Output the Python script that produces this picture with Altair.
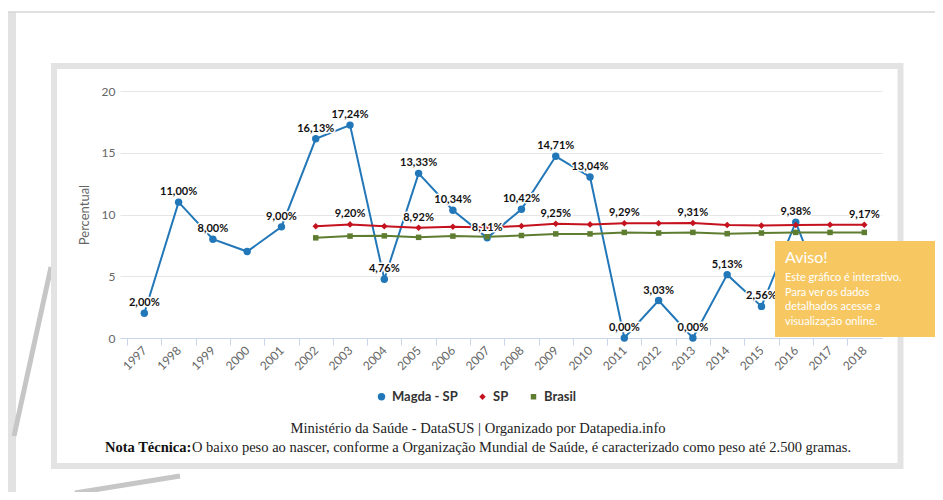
import altair as alt
import pandas as pd

# ---------------- data ----------------
years = [str(y) for y in range(1997, 2019)]
series_names = ["Magda - SP", "SP", "Brasil"]
series_colors = ["#2277b8", "#c4121e", "#5e7d30"]

magda = [2.00, 11.00, 8.00, 7.00, 9.00, 16.13, 17.24, 4.76, 13.33, 10.34, 8.11,
         10.42, 14.71, 13.04, 0.00, 3.03, 0.00, 5.13, 2.56, 9.38, 2.20, 4.50]
magda_unlabeled = ["2000", "2017", "2018"]

sp_years = years[5:]  # 2002-2018
sp = [9.05, 9.20, 9.05, 8.92, 9.00, 8.95, 9.07, 9.25, 9.20, 9.29, 9.30, 9.31,
      9.15, 9.10, 9.15, 9.17, 9.17]
sp_labeled = ["2003", "2005", "2009", "2011", "2013", "2018"]

brasil_years = years[5:]
brasil = [8.11, 8.25, 8.27, 8.15, 8.25, 8.20, 8.30, 8.43, 8.43, 8.55, 8.50, 8.55,
          8.45, 8.50, 8.55, 8.55, 8.55]

aviso_lines = ["Este gráfico é interativo.", "Para ver os dados",
               "detalhados acesse a", "visualização online."]


def fmt(v):
    return f"{v:.2f}".replace(".", ",") + "%"


rows = []
for y, v in zip(years, magda):
    rows.append({"Ano": y, "Serie": "Magda - SP", "Valor": v,
                 "Rotulo": "" if y in magda_unlabeled else fmt(v)})
for y, v in zip(sp_years, sp):
    rows.append({"Ano": y, "Serie": "SP", "Valor": v,
                 "Rotulo": fmt(v) if y in sp_labeled else ""})
for y, v in zip(brasil_years, brasil):
    rows.append({"Ano": y, "Serie": "Brasil", "Valor": v, "Rotulo": ""})
df = pd.DataFrame(rows)
lab_df = df[df["Rotulo"] != ""]

FONT = "Lato"

x_enc = alt.X(
    "Ano:O",
    scale=alt.Scale(type="point", domain=years, padding=0.6125, align=0.579),
    axis=alt.Axis(title=None, labelAngle=-45, labelAlign="right", labelBaseline="middle",
                  tickOffset=-17.14, labelOffset=17.14, tickColor="#ccd6eb", tickSize=7,
                  domainColor="#ccd6eb", labelColor="#666666", labelFont=FONT,
                  labelFontSize=12, labelPadding=3, grid=False),
)
y_enc = alt.Y(
    "Valor:Q",
    scale=alt.Scale(domain=[0, 20], nice=False),
    axis=alt.Axis(values=[0, 5, 10, 15, 20], title="Percentual", titleColor="#666666",
                  titleFont=FONT, titleFontSize=13, titleFontWeight="normal",
                  titlePadding=10, labelColor="#666666", labelFont=FONT, labelFontSize=12,
                  labelPadding=5, ticks=False, tickSize=0, domain=False,
                  gridColor="#e6e6e6"),
)
color_enc = alt.Color("Serie:N", scale=alt.Scale(domain=series_names, range=series_colors),
                      legend=alt.Legend(title=None))
shape_enc = alt.Shape("Serie:N", scale=alt.Scale(domain=series_names,
                                                 range=["circle", "diamond", "square"]),
                      legend=alt.Legend(title=None))
size_enc = alt.Size("Serie:N", scale=alt.Scale(domain=series_names, range=[55, 30, 50]),
                    legend=None)

base = alt.Chart(df)
lines = base.mark_line(strokeWidth=2).encode(x=x_enc, y=y_enc, color=color_enc,
                                              detail="Serie:N")
points = base.mark_point(filled=True, opacity=1).encode(
    x=x_enc, y=y_enc, color=color_enc, shape=shape_enc, size=size_enc)

labels_halo = alt.Chart(lab_df).mark_text(
    font=FONT, fontSize=11, fontWeight="bold", dy=-10, stroke="white", strokeWidth=3,
    strokeJoin="round", fill="white").encode(x=x_enc, y=y_enc, text="Rotulo:N")
labels = alt.Chart(lab_df).mark_text(
    font=FONT, fontSize=11, fontWeight="bold", dy=-10, color="#111111").encode(
    x=x_enc, y=y_enc, text="Rotulo:N")

one = pd.DataFrame({"k": [0]})
deco = alt.Chart(one)

frame = deco.mark_rect(fill=None, stroke="#e3e3e3", strokeWidth=6).encode(
    x=alt.value(-66), x2=alt.value(780.5), y=alt.value(-25), y2=alt.value(375))
left_bar = deco.mark_rect(fill="#e2e2e2").encode(
    x=alt.value(-112), x2=alt.value(-104), y=alt.value(-79), y2=alt.value(401))
top_line = deco.mark_rule(color="#d6d6d6", strokeWidth=1.5).encode(
    x=alt.value(-112), x2=alt.value(815), y=alt.value(-79))
wedge1 = deco.mark_rule(color="#c6c6c6", strokeWidth=5).encode(
    x=alt.value(-69), x2=alt.value(-106), y=alt.value(176), y2=alt.value(345))
wedge2 = deco.mark_rule(color="#c6c6c6", strokeWidth=5).encode(
    x=alt.value(-45), x2=alt.value(60), y=alt.value(402), y2=alt.value(385))

SERIF = "Liberation Serif"
source = deco.mark_text(text="Ministério da Saúde - DataSUS | Organizado por Datapedia.info",
                        font=SERIF, fontSize=14.6, color="#222222",
                        align="center", baseline="middle").encode(
    x=alt.value(358), y=alt.value(338))
nota_b = deco.mark_text(text="Nota Técnica:", font=SERIF, fontSize=14.5,
                        fontWeight="bold", color="#111111", align="left",
                        baseline="middle").encode(x=alt.value(-15), y=alt.value(357))
nota = deco.mark_text(text="O baixo peso ao nascer, conforme a Organização Mundial de Saúde, é caracterizado como peso até 2.500 gramas.",
                      font=SERIF, fontSize=14.5, color="#222222", align="left",
                      baseline="middle").encode(x=alt.value(72), y=alt.value(357))

aviso_box = deco.mark_rect(fill="#f7c862").encode(
    x=alt.value(655), x2=alt.value(815), y=alt.value(150), y2=alt.value(246))
aviso_t = deco.mark_text(text="Aviso!", font=FONT, fontSize=16, color="white",
                         align="left", baseline="middle").encode(
    x=alt.value(665), y=alt.value(167))
aviso_body = deco.mark_text(text=aviso_lines, lineHeight=14.5, font=FONT, fontSize=11,
                            color="white", align="left", baseline="top").encode(
    x=alt.value(665), y=alt.value(181))

chart = alt.layer(
    left_bar, top_line, wedge1, wedge2, frame,
    lines, points, labels_halo, labels,
    source, nota_b, nota,
    aviso_box, aviso_t, aviso_body,
).properties(
    width=762, height=247,
    autosize=alt.AutoSizeParams(type="none"),
    padding={"left": 112, "top": 83, "right": 53, "bottom": 154},
).configure_view(stroke=None).configure_legend(
    orient="none", legendX=255, legendY=299, direction="horizontal",
    labelFont=FONT, labelFontSize=13, labelFontWeight="bold", labelColor="#333333",
    columnPadding=18, symbolSize=50, symbolStrokeWidth=0,
)

chart.save("out.html", embed_options={"renderer": "svg", "actions": False})
